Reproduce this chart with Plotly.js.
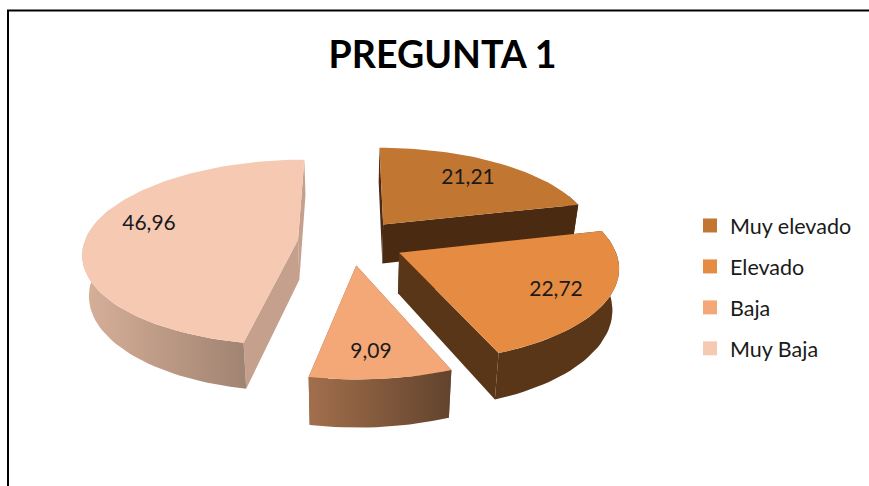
<!DOCTYPE html>
<html>
<head>
<meta charset="utf-8">
<script src="https://cdn.plot.ly/plotly-3.0.1.min.js"></script>
<style>html,body{margin:0;padding:0;background:#fff}#chart{width:869px;height:486px}</style>
</head>
<body>
<div id="chart"></div>
<script>
// Data
const categories = ['Muy elevado', 'Elevado', 'Baja', 'Muy Baja'];
const values = [21.21, 22.72, 9.09, 46.96];
const valueLabels = ['21,21', '22,72', '9,09', '46,96'];
const chartTitle = 'PREGUNTA 1';

// Styles
const topColors = ['#C17631', '#E68B42', '#F4A877', '#F6C9B2'];
const radialColors = ['#4B2A12', '#5A3618', '#7F573B', '#C4A08D'];
const arcStart = ['#4B2A12', '#5A3618', '#A26F4C', '#D8B09A'];
const arcEnd = ['#4B2A12', '#5A3618', '#62432D', '#A08371'];
const labelX = [468, 556, 371, 149];
const labelY = [179, 291, 353, 225];
const drawOrder = [3, 0, 1, 2];

// Projection of the tilted, exploded pie onto the pixel-scaled axes
const cam = {cx: 351, cy: 242, rx: 213.5, ry: 91.5, p: 0.135, explode: 0.25, depth: 40, lowerScale: 0.975};
const rad = d => d * Math.PI / 180;
function project(gx, gy, lower) {
  const s = 1 / (1 - cam.p * gy);
  const k = lower ? cam.lowerScale : 1;
  return [cam.cx + cam.rx * gx * s * k, cam.cy + cam.ry * gy * s + (lower ? cam.depth * s : 0)];
}
function angleRange(a, b) {
  const out = [];
  const n = Math.max(2, Math.ceil((b - a) / 2));
  for (let i = 0; i <= n; i++) out.push(a + (b - a) * i / n);
  return out;
}
const total = values.reduce((a, b) => a + b, 0);
let acc = 0;
const slices = values.map(v => {
  const a = acc / total * 360;
  acc += v;
  return {a, b: acc / total * 360};
});

const traces = [];
function polygon(pts, extra) {
  traces.push(Object.assign({
    type: 'scatter', mode: 'lines', fill: 'toself', showlegend: false, hoverinfo: 'skip',
    x: pts.map(p => p[0]), y: pts.map(p => p[1]), line: {width: 0}
  }, extra));
}
drawOrder.forEach(i => {
  const {a, b} = slices[i];
  const mid = rad((a + b) / 2);
  const ox = cam.explode * Math.sin(mid), oy = -cam.explode * Math.cos(mid);
  const rim = (t, lower) => project(ox + Math.sin(rad(t)), oy - Math.cos(rad(t)), lower);
  const apex = lower => project(ox, oy, lower);
  // side walls along the two radial cuts
  [a, b].forEach(t => {
    polygon([apex(false), rim(t, false), rim(t, true), apex(true)], {fillcolor: radialColors[i]});
  });
  // outer curved wall, front-facing part only
  const f1 = Math.max(a, 70), f2 = Math.min(b, 290);
  if (f2 > f1) {
    const ts = angleRange(f1, f2);
    const pts = ts.map(t => rim(t, false)).concat(ts.slice().reverse().map(t => rim(t, true)));
    polygon(pts, {fillgradient: {type: 'horizontal', colorscale: [[0, arcStart[i]], [1, arcEnd[i]]]}});
  }
  // top face
  const top = [apex(false)].concat(angleRange(a, b).map(t => rim(t, false)));
  polygon(top, {fillcolor: topColors[i]});
});

// value labels
traces.push({
  type: 'scatter', mode: 'text', x: labelX, y: labelY, text: valueLabels,
  textposition: 'middle center', showlegend: false, hoverinfo: 'skip',
  textfont: {family: 'Lato, sans-serif', size: 21, color: '#1a1a1a'}
});

// legend entries
categories.forEach((c, i) => {
  traces.push({
    type: 'scatter', mode: 'markers', name: c, x: [null], y: [null], legendgroup: c, hoverinfo: 'skip',
    marker: {symbol: 'square', size: 14, color: topColors[i]}
  });
});

const layout = {
  width: 869, height: 486,
  margin: {l: 0, r: 0, t: 0, b: 0},
  paper_bgcolor: '#fff', plot_bgcolor: '#fff',
  title: {text: '<b>' + chartTitle + '</b>', x: 442.5 / 869, xanchor: 'center', y: 1 - 55 / 486, yanchor: 'middle',
          font: {family: 'Lato, sans-serif', size: 37.5, color: '#000'}},
  xaxis: {range: [0, 869], visible: false, fixedrange: true},
  yaxis: {range: [486, 0], visible: false, fixedrange: true},
  legend: {x: 690 / 869, xanchor: 'left', y: 1 - 205 / 486, yanchor: 'top', tracegroupgap: 10,
           font: {family: 'Lato, sans-serif', size: 21.5, color: '#1a1a1a'}, bgcolor: 'rgba(0,0,0,0)'},
  shapes: [
    {type: 'line', xref: 'x', yref: 'y', x0: 8, x1: 8, y0: 10, y1: 486, line: {color: '#000', width: 2}},
    {type: 'line', xref: 'x', yref: 'y', x0: 7, x1: 869, y0: 10.5, y1: 10.5, line: {color: '#000', width: 2}}
  ]
};
Plotly.newPlot('chart', traces, layout, {displayModeBar: false, staticPlot: true});
</script>
</body>
</html>
